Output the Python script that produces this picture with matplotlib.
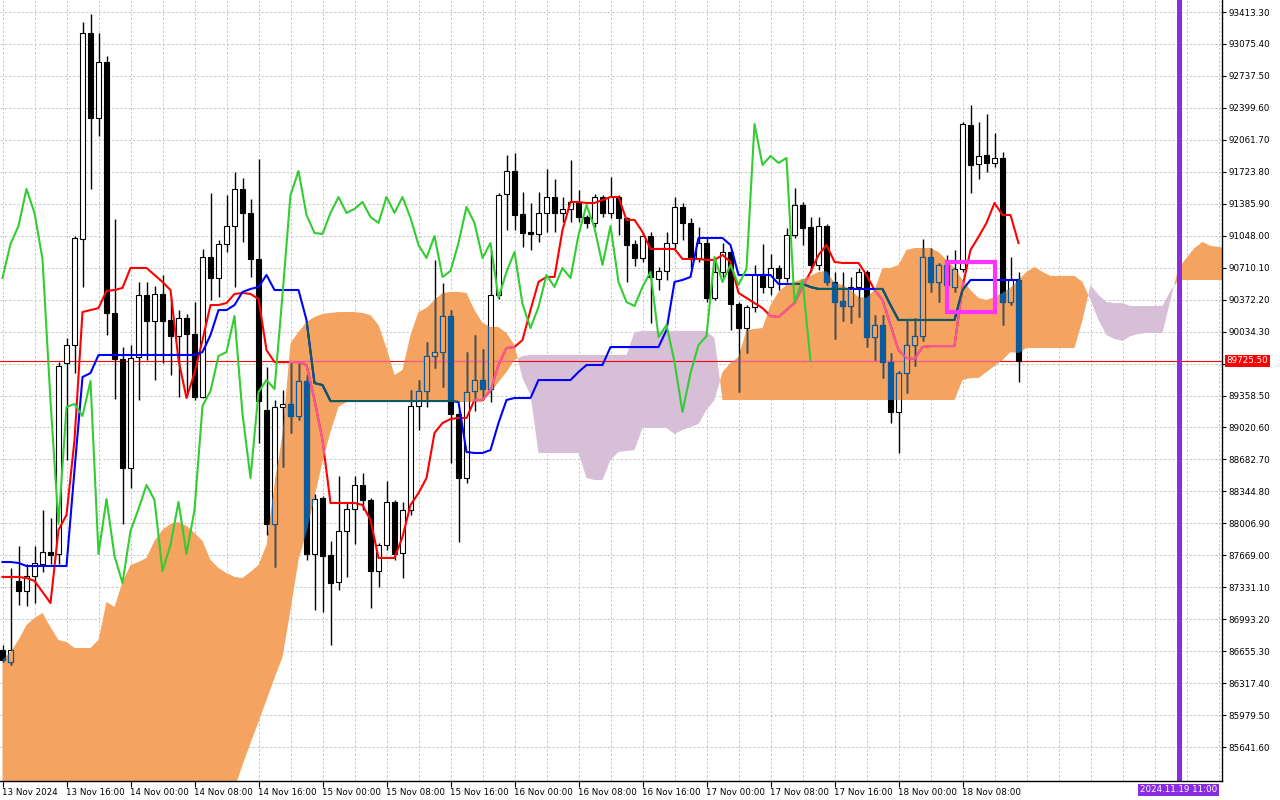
import numpy as np
import matplotlib
matplotlib.use("Agg")
import matplotlib.pyplot as plt
from matplotlib.path import Path
from matplotlib.patches import Rectangle

# hourly BTC candles, first bar = 13 Nov 2024 08:00
opens = [
    86667, 86540, 87398, 87292, 87450, 87577, 87704, 87683, 89702, 89892,
    91014, 93191, 92293, 92885, 90231, 89744, 88592, 89765, 90422, 90146,
    90432, 90157, 89987, 90178, 90009, 89342, 90823, 90601, 90961, 91151,
    91542, 91289, 90802, 89205, 88000, 89237, 89269, 89142, 89512, 87683,
    88275, 87672, 87387, 87926, 88159, 88412, 88254, 87503, 87778, 88233,
    87694, 88148, 89248, 89406, 89776, 89818, 90199, 89163, 88486, 89406,
    89522, 89427, 90422, 91489, 91732, 91278, 91088, 91066, 91289, 91457,
    91289, 91331, 91405, 91246, 91183, 91457, 91289, 91457, 91236, 90961,
    90813, 91045, 90591, 90675, 90971, 91352, 91183, 90813, 90971, 90390,
    90665, 90876, 90326, 90072, 90294, 90633, 90506, 90707, 90601, 91056,
    91373, 91141, 90739, 91151, 90559, 90357, 90305, 90506, 90665, 89977,
    90104, 89712, 89184, 89596, 89892, 89987, 90823, 90559, 90739, 90506,
    90696, 92219, 91806, 91901, 91817, 91870, 90347, 90580,
]
highs = [
    86720, 87535, 87768, 87577, 87768, 88148, 88064, 89712, 89966, 91045,
    93307, 93392, 93191, 92948, 91225, 89871, 89892, 90559, 90559, 90517,
    90633, 90390, 90262, 90220, 90347, 90908, 91500, 91003, 91479, 91722,
    91658, 91436, 91859, 89660, 89311, 89416, 89702, 89702, 89575, 88317,
    88296, 87821, 88508, 88233, 88508, 88539, 88275, 87799, 88455, 88254,
    88233, 89416, 89522, 89924, 90792, 90548, 90262, 89205, 89818, 89998,
    89850, 90897, 91500, 91901, 91923, 91510, 91394, 91510, 91753, 91648,
    91457, 91849, 91531, 91267, 91489, 91479, 91669, 91479, 91246, 91003,
    91088, 91088, 90718, 91088, 91457, 91394, 91236, 91141, 91024, 90823,
    90971, 90897, 90347, 90315, 90739, 90961, 90855, 90739, 91130, 91553,
    91405, 91246, 91246, 91172, 90665, 90665, 90612, 90707, 90686, 90209,
    90209, 89808, 89617, 90157, 90178, 91014, 90918, 90760, 90844, 90897,
    92250, 92430, 92250, 92335, 92134, 91933, 90823, 90665,
]
lows = [
    86540, 86509, 87143, 87133, 87164, 87493, 87577, 87577, 88677, 89596,
    90506, 91542, 92102, 89998, 89321, 88000, 88381, 89311, 89734, 89522,
    89702, 89575, 89342, 89342, 89311, 89332, 90368, 90400, 90876, 90506,
    90982, 90612, 88856, 87884, 87546, 88603, 88962, 89100, 87620, 87090,
    87069, 86720, 87302, 87440, 87789, 88148, 87111, 87334, 87725, 87620,
    87429, 88095, 88994, 89237, 89649, 89448, 88645, 87810, 88433, 89195,
    89311, 89290, 90379, 91109, 91109, 90929, 90897, 90982, 91088, 91088,
    91193, 91193, 91193, 91130, 91141, 91246, 91236, 91056, 90559, 90728,
    90771, 90125, 90474, 90580, 90897, 91003, 90707, 90771, 90347, 90368,
    90612, 90051, 89395, 89808, 90241, 90443, 90422, 90474, 90559, 91024,
    90950, 90665, 90686, 90527, 89956, 90146, 90125, 90188, 89871, 89734,
    89543, 89068, 88751, 89385, 89670, 89935, 90453, 90347, 90474, 90453,
    90665, 91500, 91648, 91722, 91775, 90104, 90315, 89501,
]
closes = [
    86562, 86667, 87292, 87450, 87588, 87704, 87672, 89670, 89892, 91024,
    93191, 92293, 92885, 90231, 89744, 88592, 89755, 90422, 90146, 90432,
    90146, 89987, 90178, 90009, 89342, 90823, 90601, 90961, 91151, 91542,
    91289, 90802, 89300, 88000, 89237, 89269, 89142, 89512, 87683, 88264,
    87662, 87376, 87926, 88159, 88412, 88254, 87503, 87778, 88233, 87683,
    88148, 89248, 89406, 89776, 89818, 90199, 89163, 88486, 89395, 89522,
    89427, 90422, 91479, 91732, 91267, 91077, 91066, 91289, 91457, 91289,
    91331, 91405, 91246, 91183, 91457, 91289, 91457, 91236, 90950, 90813,
    91045, 90612, 90675, 90971, 91352, 91183, 90813, 90971, 90390, 90665,
    90876, 90326, 90072, 90294, 90633, 90506, 90707, 90601, 91056, 91373,
    91130, 90739, 91151, 90559, 90347, 90305, 90506, 90665, 89977, 90104,
    89712, 89184, 89596, 89892, 89987, 90823, 90559, 90739, 90527, 90696,
    92229, 91796, 91891, 91817, 91870, 90347, 90580, 89725.5,
]

# Ichimoku lines as shown on the chart
tenkan = [
    87440, 87440, 87440, 87429, 87398, 87281, 87164, 87937, 88095, 88888,
    90241, 90262, 90283, 90464, 90474, 90496, 90707, 90707, 90707, 90633,
    90559, 90474, 89734, 89332, 89596, 89945, 90315, 90315, 90336, 90432,
    90443, 90432, 90379, 89839, 89712, 89712, 89712, 89712, 89681, 89311,
    88888, 88222, 88222, 88222, 88222, 88201, 88042, 87641, 87641, 87641,
    87863, 88201, 88328, 88486, 88962, 89068, 89110, 89121, 89121, 89311,
    89311, 89416, 89681, 89861, 89871, 89945, 90262, 90559, 90612, 90612,
    91109, 91405, 91405, 91394, 91394, 91426, 91457, 91457, 91215, 91215,
    91088, 90908, 90908, 90908, 90908, 90802, 90802, 90802, 90792, 90792,
    90844, 90771, 90443, 90390, 90336, 90283, 90199, 90188, 90262, 90336,
    90506, 90665, 90844, 90950, 90771, 90760, 90760, 90760, 90633, 90474,
    90368, 90104, 89839, 89755, 89744, 89871, 89881, 89881, 89881, 89881,
    90506, 90897, 91035, 91183, 91394, 91267, 91267, 90971,
]
kijun = [
    87598, 87598, 87588, 87556, 87556, 87556, 87556, 87556, 87556, 88571,
    89554, 89596, 89787, 89787, 89787, 89787, 89787, 89787, 89787, 89787,
    89787, 89787, 89787, 89787, 89787, 89818, 89998, 90262, 90262, 90315,
    90453, 90485, 90506, 90633, 90474, 90474, 90474, 90474, 90157, 89490,
    89469, 89300, 89300, 89300, 89300, 89300, 89300, 89300, 89300, 89300,
    89300, 89300, 89300, 89300, 89300, 89300, 89300, 89290, 88761, 88751,
    88751, 88782, 89068, 89311, 89332, 89332, 89332, 89522, 89522, 89522,
    89522, 89522, 89607, 89681, 89681, 89681, 89871, 89871, 89871, 89871,
    89871, 89871, 89871, 90051, 90559, 90580, 90612, 91024, 91024, 91024,
    91024, 90950, 90633, 90633, 90633, 90633, 90633, 90538, 90538, 90538,
    90538, 90506, 90485, 90485, 90485, 90485, 90485, 90485, 90485, 90485,
    90485, 90315, 90157, 90157, 90157, 90157, 90157, 90157, 90157, 90157,
    90474, 90580, 90580, 90580, 90580, 90580, 90580, 90580,
]
# senkou spans run 26 bars past the last candle
span_a = [
    86562, 86646, 86773, 86932, 87006, 87059, 86910, 86773, 86752, 86689,
    86689, 86689, 86773, 87175, 87122, 87387, 87567, 87598, 87641, 87821,
    87937, 88000, 88021, 87979, 87905, 87821, 87620, 87535, 87482, 87440,
    87429, 87493, 87567, 87778, 88412, 88951, 89913, 90030, 90136, 90188,
    90220, 90231, 90241, 90241, 90241, 90231, 90209, 90104, 89861, 89575,
    89628, 89998, 90241, 90283, 90368, 90443, 90453, 90453, 90443, 90262,
    90125, 90083, 90083, 90019, 89892, 89543, 89363, 88751, 88751, 88751,
    88751, 88751, 88751, 88486, 88465, 88465, 88677, 88761, 88772, 88782,
    89015, 89015, 89015, 89015, 88952, 88994, 89025, 89057, 89205, 89311,
    89607, 89702, 89765, 90051, 90062, 90072, 90315, 90453, 90527, 90559,
    90591, 90623, 90665, 90675, 90548, 90527, 90474, 90400, 90390, 90474,
    90707, 90707, 90739, 90897, 90918, 90918, 90918, 90876, 90792, 90707,
    90580, 90474, 90390, 90368, 90400, 90443, 90496, 90580, 90665, 90718,
    90665, 90623, 90623, 90623, 90623, 90559, 90368, 90157, 89998, 89956,
    89935, 89987, 90009, 90019, 90019, 90019, 90368, 90707, 90813, 90918,
    90982, 90940, 90929, 90918,
]
span_b = (
    [85200] * 30
    + [85452, 85684, 85906, 86139, 86371, 86593, 87090, 87620, 87916, 88285,
       88656, 88973, 89237]
    + [89290] * 18
    + [89385, 89501, 89607, 89734, 89776]
    + [89787] * 13
    + [90030]
    + [90041] * 9
    + [89966]
    + [89311] * 30
    + [89522, 89543, 89543, 89607, 89670, 89734, 89818, 89808]
    + [89861] * 7
    + [90157, 90527, 90422, 90347, 90336, 90336]
    + [90305] * 5
    + [90464]
    + [90580] * 7
)

price_ticks = [93413.30 - 337.9 * k for k in range(24)]
time_labels = [
    "13 Nov 2024", "13 Nov 16:00", "14 Nov 00:00", "14 Nov 08:00",
    "14 Nov 16:00", "15 Nov 00:00", "15 Nov 08:00", "15 Nov 16:00",
    "16 Nov 00:00", "16 Nov 08:00", "16 Nov 16:00", "17 Nov 00:00",
    "17 Nov 08:00", "17 Nov 16:00", "18 Nov 00:00", "18 Nov 08:00",
]
marker_bar = 147  # 19 Nov 11:00
marker_label = "2024.11.19 11:00"
box_bars = (118, 124)
box_prices = (90241, 90770)

ORANGE = "#F4A460"
LILAC = "#D8BFD8"
XOR_KEY = "#0B5B9F"      # black drawn under the orange cloud
XOR_RED = "#F45B9F"
XOR_BLUE = "#0B5B60"
GRID = "#c4c4c4"

plt.rcParams["font.family"] = ["DejaVu Sans"]

o = np.array(opens, dtype=float)
h = np.array(highs, dtype=float)
l = np.array(lows, dtype=float)
c = np.array(closes, dtype=float)
bars = np.arange(len(c))
a = np.array(span_a, dtype=float)
b = np.array(span_b, dtype=float)
cloud_x = np.arange(len(a))


def draw_candles(ax, wick_col, bear_col, bull_face, edge_col, z, clip=None):
    up = c >= o
    wicks = ax.vlines(bars, l, h, colors=wick_col, lw=1.0, zorder=z)
    faces = [bull_face if u else bear_col for u in up]
    body = ax.bar(bars, np.abs(c - o), bottom=np.minimum(o, c), width=0.68,
                  color=faces, edgecolor=edge_col, linewidth=0.8, zorder=z + 0.1)
    if clip is not None:
        wicks.set_clip_path(clip, ax.transData)
        for p in body.patches:
            p.set_clip_path(clip, ax.transData)


fig = plt.figure(figsize=(12.8, 8), dpi=100)
ax = fig.add_axes([0, 19 / 800, 1222 / 1280, 781 / 800])
ax.set_xlim(-0.3125, 152.4375)
ax.set_ylim(85282.7, 93540.2)

# dashed grid
for p in price_ticks:
    ax.axhline(p, color=GRID, lw=0.7, ls=(0, (2.2, 2.2)), zorder=0.5)
for x in range(0, 153, 4):
    ax.axvline(x, color=GRID, lw=0.7, ls=(0, (2.2, 2.2)), zorder=0.5)

# kumo
orange = ax.fill_between(cloud_x, a, b, where=a >= b, interpolate=True,
                         color=ORANGE, lw=0, zorder=1)
ax.fill_between(cloud_x, a, b, where=a < b, interpolate=True,
                color=LILAC, lw=0, zorder=1)
orange_clip = Path.make_compound_path(*orange.get_paths())

ax.axhline(c[-1], color="red", lw=0.8, zorder=1.5)
draw_candles(ax, "black", "black", "white", "black", 2)
ax.plot(bars, tenkan, color="red", lw=1.5, zorder=3)
ax.plot(bars, kijun, color="blue", lw=1.5, zorder=3)

# MT5 paints the cloud with XOR, so whatever lies inside it changes colour
pl = ax.axhline(c[-1], color=XOR_RED, lw=0.8, zorder=3.4)
pl.set_clip_path(orange_clip, ax.transData)
draw_candles(ax, XOR_KEY, XOR_KEY, ORANGE, XOR_KEY, 3.5, clip=orange_clip)
for vals, col in [(tenkan, XOR_RED), (kijun, XOR_BLUE)]:
    ln, = ax.plot(bars, vals, color=col, lw=1.5, zorder=3.7)
    ln.set_clip_path(orange_clip, ax.transData)

# chikou span = close shifted back 26 bars
ax.plot(bars[:-26], c[26:], color="#32CD32", lw=1.5, zorder=4)

ax.add_patch(Rectangle((box_bars[0], box_prices[0]), box_bars[1] - box_bars[0],
                       box_prices[1] - box_prices[0], fill=False,
                       edgecolor="#FF33FF", lw=3, zorder=5))
ax.axvline(marker_bar, color="#8A2BE2", lw=3.6, zorder=5)

# axes
for s in ["top", "left"]:
    ax.spines[s].set_visible(False)
for s in ["right", "bottom"]:
    ax.spines[s].set_linewidth(1.0)
    ax.spines[s].set_zorder(6)

ax.yaxis.tick_right()
ax.set_yticks(price_ticks)
ax.set_yticklabels(["" if abs(p - c[-1]) < 150 else f"{p:.2f}" for p in price_ticks])
ax.tick_params(axis="y", direction="out", length=3, width=0.8, pad=1.5, labelsize=6.3)

ax.set_xticks(range(0, 8 * len(time_labels), 8))
ax.set_xticklabels(time_labels)
for t in ax.get_xticklabels():
    t.set_horizontalalignment("left")
ax.tick_params(axis="x", direction="out", length=4.3, width=0.8, pad=1.0, labelsize=6.3)

ax.text(1 + 4.5 / 1222, c[-1], f"{c[-1]:.2f}", transform=ax.get_yaxis_transform(),
        ha="left", va="center", color="white", fontsize=6.3, clip_on=False, zorder=7,
        bbox=dict(facecolor="red", edgecolor="none", pad=1.2))
ax.text(marker_bar, -0.0115, marker_label, transform=ax.get_xaxis_transform(),
        ha="center", va="center", color="white", fontsize=6.3, clip_on=False, zorder=7,
        bbox=dict(facecolor="#8A2BE2", edgecolor="none", pad=1.2))

fig.savefig("out.png", dpi=100, facecolor="white")
